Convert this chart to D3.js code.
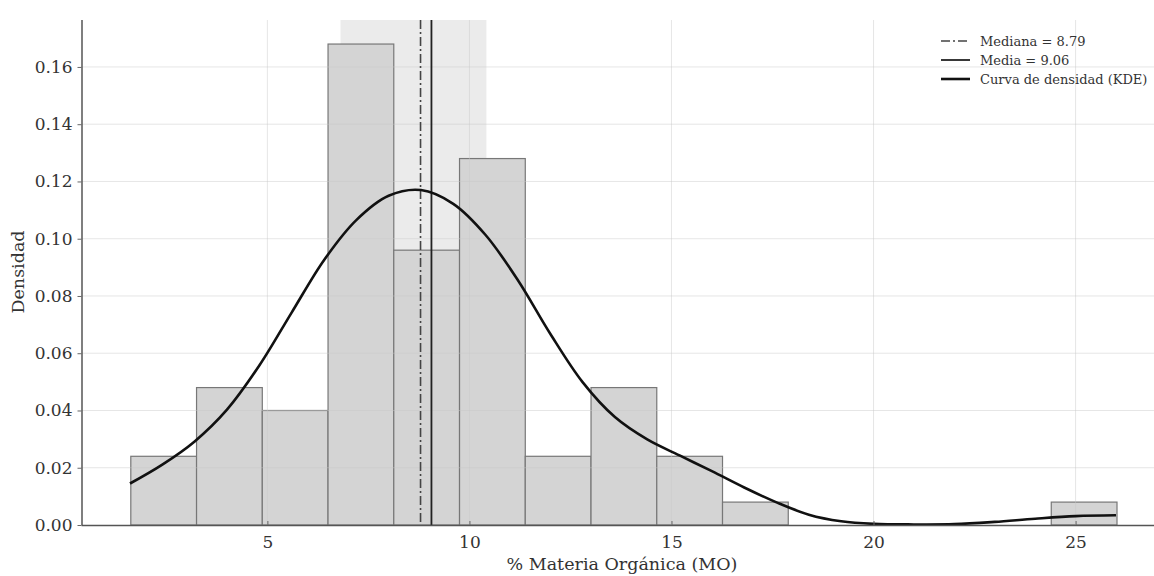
<!DOCTYPE html>
<html>
<head>
<meta charset="utf-8">
<script src="https://cdn.jsdelivr.net/npm/d3@7"></script>
<style>
  body { margin: 0; background: #fff; }
  svg { display: block; font-family: "DejaVu Serif", serif; }
</style>
</head>
<body>
<svg id="chart" width="1154" height="576"></svg>
<script>
// histogram (density) - 15 bins from 1.62 to 26.03
const binStart = 1.62;
const binWidth = 1.627;
const densities = [0.024, 0.048, 0.040, 0.168, 0.096, 0.128, 0.024, 0.048, 0.024, 0.008, 0, 0, 0, 0, 0.008];

// KDE curve
const kdeX = [1.6, 2.4, 3.2, 4.0, 4.8, 5.6, 6.4, 7.2, 8.0, 8.8, 9.6, 10.4, 11.2, 12.0, 12.8, 13.6, 14.4, 15.2, 16.0, 16.8, 17.6, 18.4, 19.2, 20.0, 21.0, 22.0, 23.0, 24.0, 25.0, 26.0];
const kdeY = [0.0145, 0.0211, 0.0292, 0.0403, 0.0557, 0.0742, 0.0925, 0.1065, 0.1150, 0.1170, 0.1122, 0.1013, 0.0855, 0.0668, 0.0499, 0.0377, 0.0299, 0.0243, 0.0188, 0.0131, 0.0079, 0.0036, 0.0013, 0.0004, 0.0002, 0.0003, 0.0011, 0.0022, 0.0031, 0.0034];

const median = 8.79;
const mean = 9.06;
const iqr = [6.81, 10.42]; // shaded band

const xTicks = [5, 10, 15, 20, 25];
const yTicks = [0, 0.02, 0.04, 0.06, 0.08, 0.10, 0.12, 0.14, 0.16];

const legendLabels = ["Mediana = 8.79", "Media = 9.06", "Curva de densidad (KDE)"];

const svg = d3.select('#chart');
const plotLeft = 81.5, plotTop = 20, plotBottom = 525;

const x = d3.scaleLinear().domain([0.40, 27.25]).range([plotLeft, 1166.5]);
const y = d3.scaleLinear().domain([0, 0.1764]).range([plotBottom, plotTop]);

// shaded band
svg.append('rect')
   .attr('x', x(iqr[0]))
   .attr('y', plotTop)
   .attr('width', x(iqr[1]) - x(iqr[0]))
   .attr('height', plotBottom - plotTop)
   .attr('fill', '#ebebeb');

// bars
const bins = densities.map((d, i) => ({x0: binStart + i * binWidth, x1: binStart + (i + 1) * binWidth, d: d}));
svg.selectAll('rect.bar')
   .data(bins.filter(b => b.d > 0))
   .enter()
   .append('rect')
   .attr('class', 'bar')
   .attr('x', b => x(b.x0))
   .attr('y', b => y(b.d))
   .attr('width', b => x(b.x1) - x(b.x0))
   .attr('height', b => y(0) - y(b.d))
   .attr('fill', '#d4d4d4')
   .attr('stroke', '#777')
   .attr('stroke-width', 1.2);

// grid
const grid = svg.append('g').attr('stroke', '#c8c8c8').attr('stroke-opacity', 0.45).attr('stroke-width', 1);
grid.selectAll('line.gx').data(xTicks).enter().append('line')
    .attr('x1', d => x(d)).attr('x2', d => x(d)).attr('y1', plotTop).attr('y2', plotBottom);
grid.selectAll('line.gy').data(yTicks.slice(1)).enter().append('line')
    .attr('x1', plotLeft).attr('x2', 1154).attr('y1', d => y(d)).attr('y2', d => y(d));

// median / mean
svg.append('line')
   .attr('x1', x(median)).attr('x2', x(median)).attr('y1', plotTop).attr('y2', plotBottom)
   .attr('stroke', '#444').attr('stroke-width', 1.6).attr('stroke-dasharray', '9,3,2,3');
svg.append('line')
   .attr('x1', x(mean)).attr('x2', x(mean)).attr('y1', plotTop).attr('y2', plotBottom)
   .attr('stroke', '#222').attr('stroke-width', 1.8);

// kde
const line = d3.line().x(d => x(d[0])).y(d => y(d[1])).curve(d3.curveCatmullRom.alpha(0.5));
svg.append('path')
   .datum(d3.zip(kdeX, kdeY))
   .attr('d', line)
   .attr('fill', 'none')
   .attr('stroke', '#111')
   .attr('stroke-width', 2.6);

// axes
const xAxis = svg.append('g')
   .attr('transform', `translate(0,${plotBottom})`)
   .call(d3.axisBottom(x).tickValues(xTicks).tickFormat(d3.format('d')).tickSize(-4).tickPadding(11));
const yAxis = svg.append('g')
   .attr('transform', `translate(${plotLeft},0)`)
   .call(d3.axisLeft(y).tickValues(yTicks).tickFormat(d3.format('.2f')).tickSize(4).tickPadding(5));

[xAxis, yAxis].forEach(g => {
  g.select('.domain').attr('stroke', '#555').attr('stroke-width', 1.5);
  g.selectAll('.tick line').attr('stroke', '#666');
  g.selectAll('.tick text').attr('fill', '#333').style('font-family', '"DejaVu Serif", serif').style('font-size', '17px');
});
xAxis.select('.domain').attr('d', `M${plotLeft},0.5H1154`);
yAxis.select('.domain').attr('d', `M0.5,${plotTop}V${plotBottom}`);

// axis labels
svg.append('text')
   .attr('x', 622).attr('y', 570)
   .attr('text-anchor', 'middle')
   .attr('fill', '#333')
   .style('font-size', '17.5px')
   .text('% Materia Orgánica (MO)');
svg.append('text')
   .attr('transform', 'translate(24,272) rotate(-90)')
   .attr('text-anchor', 'middle')
   .attr('fill', '#333')
   .style('font-size', '17.5px')
   .text('Densidad');

// legend
const legend = svg.append('g');
const legendStyles = [
  {stroke: '#444', width: 1.6, dash: '9,3,2,3'},
  {stroke: '#222', width: 1.8, dash: null},
  {stroke: '#111', width: 2.6, dash: null}
];
legendLabels.forEach((label, i) => {
  const ly = 41 + i * 19;
  legend.append('line')
        .attr('x1', 941).attr('x2', 970).attr('y1', ly).attr('y2', ly)
        .attr('stroke', legendStyles[i].stroke)
        .attr('stroke-width', legendStyles[i].width)
        .attr('stroke-dasharray', legendStyles[i].dash);
  legend.append('text')
        .attr('x', 980).attr('y', ly + 4.5)
        .attr('fill', '#333')
        .style('font-size', '13px')
        .text(label);
});
</script>
</body>
</html>
